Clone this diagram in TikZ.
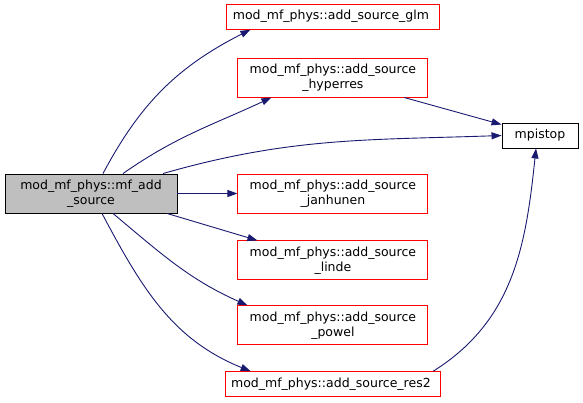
\documentclass[tikz,border=0pt]{standalone}
\usepackage{fontspec}
\setmainfont{DejaVu Sans}
\usepackage{xcolor}
\usepackage{tikz}
\usetikzlibrary{
arrows.meta,
positioning
}

\definecolor{edgeblue}{HTML}{191970}
\definecolor{callred}{HTML}{FF0000}
\definecolor{rootgray}{HTML}{BFBFBF}

\begin{document}
\begin{tikzpicture}[
x=1pt,y=1pt,
font=\fontsize{12.5}{15}\selectfont,
box/.style={
draw=callred,
line width=0.9pt,
minimum height=25pt,
inner xsep=6pt,
inner ysep=2pt,
align=center
},
twoline/.style={
box,
minimum width=190pt,
minimum height=39pt
},
rootbox/.style={
box,
draw=black,
fill=rootgray,
minimum width=172pt,
minimum height=39pt
},
leafbox/.style={
box,
draw=black,
minimum width=76pt
},
arrow/.style={-{Triangle[length=10pt,width=7pt]},edgeblue,line width=0.9pt}
]

\useasboundingbox (0,0) rectangle (583,403);

\node[rootbox] (main) at (91,209.5) {
mod\_mf\_phys::mf\_add\\
\_source
};

\node[twoline,right=60pt of main] (janhunen) {
mod\_mf\_phys::add\_source\\
\_janhunen
};

\node[twoline,above=76pt of janhunen] (hyperres) {
mod\_mf\_phys::add\_source\\
\_hyperres
};

\node[box,above=28pt of hyperres] (glm) {
mod\_mf\_phys::add\_source\_glm
};

\node[twoline,below=27pt of janhunen] (linde) {
mod\_mf\_phys::add\_source\\
\_linde
};

\node[twoline,below=25pt of linde] (powel) {
mod\_mf\_phys::add\_source\\
\_powel
};

\node[box,below=26pt of powel] (res2) {
mod\_mf\_phys::add\_source\_res2
};

\node[leafbox] (mpistop) at (540,267.5) {mpistop};

\draw[arrow] ([xshift=12pt]main.north) to[out=62,in=207] ([xshift=24pt]glm.south west);
\draw[arrow] ([xshift=32pt]main.north) to[out=35,in=205] ([xshift=34pt]hyperres.south west);
\draw[arrow] ([xshift=72pt]main.north) to[out=16,in=182] (mpistop.west);
\draw[arrow] (main.east) -- (janhunen.west);
\draw[arrow] ([xshift=76pt]main.south) -- ([xshift=20pt]linde.north west);
\draw[arrow] ([xshift=22pt]main.south) to[out=-40,in=156] ([xshift=10pt]powel.north west);
\draw[arrow] ([xshift=11pt]main.south) to[out=-62,in=158] ([xshift=26pt]res2.north west);

\draw[arrow] ([xshift=-24pt]hyperres.south east) -- ([yshift=-2pt]mpistop.north west);
\draw[arrow] ([xshift=-8pt]res2.north east) to[out=32,in=-96] ([xshift=-4pt]mpistop.south);

\end{tikzpicture}
\end{document}
